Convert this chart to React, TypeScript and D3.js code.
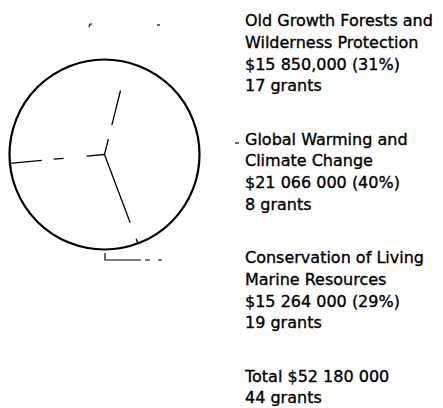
import React from 'react';
import * as d3 from 'd3';

// grant totals by program area
const categories = [
  ['Old Growth Forests and', 'Wilderness Protection'],
  ['Global Warming and', 'Climate Change'],
  ['Conservation of Living', 'Marine Resources'],
];
const amounts = [15850000, 21066000, 15264000];
const amountLabels = ['$15 850,000 (31%)', '$21 066 000 (40%)', '$15 264 000 (29%)'];
const grantCounts = [17, 8, 19];
const totalLabel = 'Total $52 180 000';
const totalGrants = 44;

const W = 443;
const H = 408;

// scanned look: boundary lines are broken up in the original
// (one per slice end: top, lower right, left)
const boundaryDash = ['16 14 36 60', '73 17 10', '18 23 10 12 32'];

function App() {
  const cx = 104.5;
  const cy = 154.5;
  const r = 95;

  const pie = d3
    .pie<number>()
    .sort(null)
    .startAngle((-95.3 * Math.PI) / 180)
    .endAngle(((360 - 95.3) * Math.PI) / 180);
  const arcs = pie(amounts);

  const textX = 245;
  const lineH = 21.8;
  const blockH = 118.5;
  const firstBase = 26;

  const blocks = categories.map((c, i) => [
    ...c,
    amountLabels[i],
    `${grantCounts[i]} grants`,
  ]);
  blocks.push([totalLabel, `${totalGrants} grants`]);

  return (
    <svg
      width={W}
      height={H}
      style={{ position: 'absolute', left: 0, top: 0, background: '#fff' }}
    >
      <rect width={W} height={H} fill="#fff" />
      <g transform={`translate(${cx},${cy})`}>
        <circle r={r} fill="none" stroke="#000" strokeWidth={2.2} />
        {arcs.map((a, i) => {
          // line at the end of each slice
          const ang = a.endAngle;
          const x = Math.sin(ang) * r;
          const y = -Math.cos(ang) * r;
          return (
            <line
              key={i}
              x1={0}
              y1={0}
              x2={x}
              y2={y}
              stroke="#000"
              strokeWidth={1.3}
              strokeDasharray={boundaryDash[i]}
            />
          );
        })}
      </g>

      {/* specks from the scan */}
      <g stroke="#000" strokeWidth={1.2} fill="none">
        <path d="M89,27 L90,24 L92,24" />
        <path d="M157,25 L160,25" />
        <path d="M105,253 L105,260 L141,260 M145,260 L150,260 M158,260 L162,260" />
        <path d="M235,143 L239,143" />
      </g>

      <g
        fontFamily="DejaVu Sans, sans-serif"
        fontSize={16}
        fill="#000"
        stroke="#000"
        strokeWidth={0.35}
      >
        {blocks.map((lines, i) =>
          lines.map((t, j) => (
            <text key={`${i}-${j}`} x={textX} y={firstBase + i * blockH + j * lineH}>
              {t}
            </text>
          ))
        )}
      </g>
    </svg>
  );
}

export default App;
